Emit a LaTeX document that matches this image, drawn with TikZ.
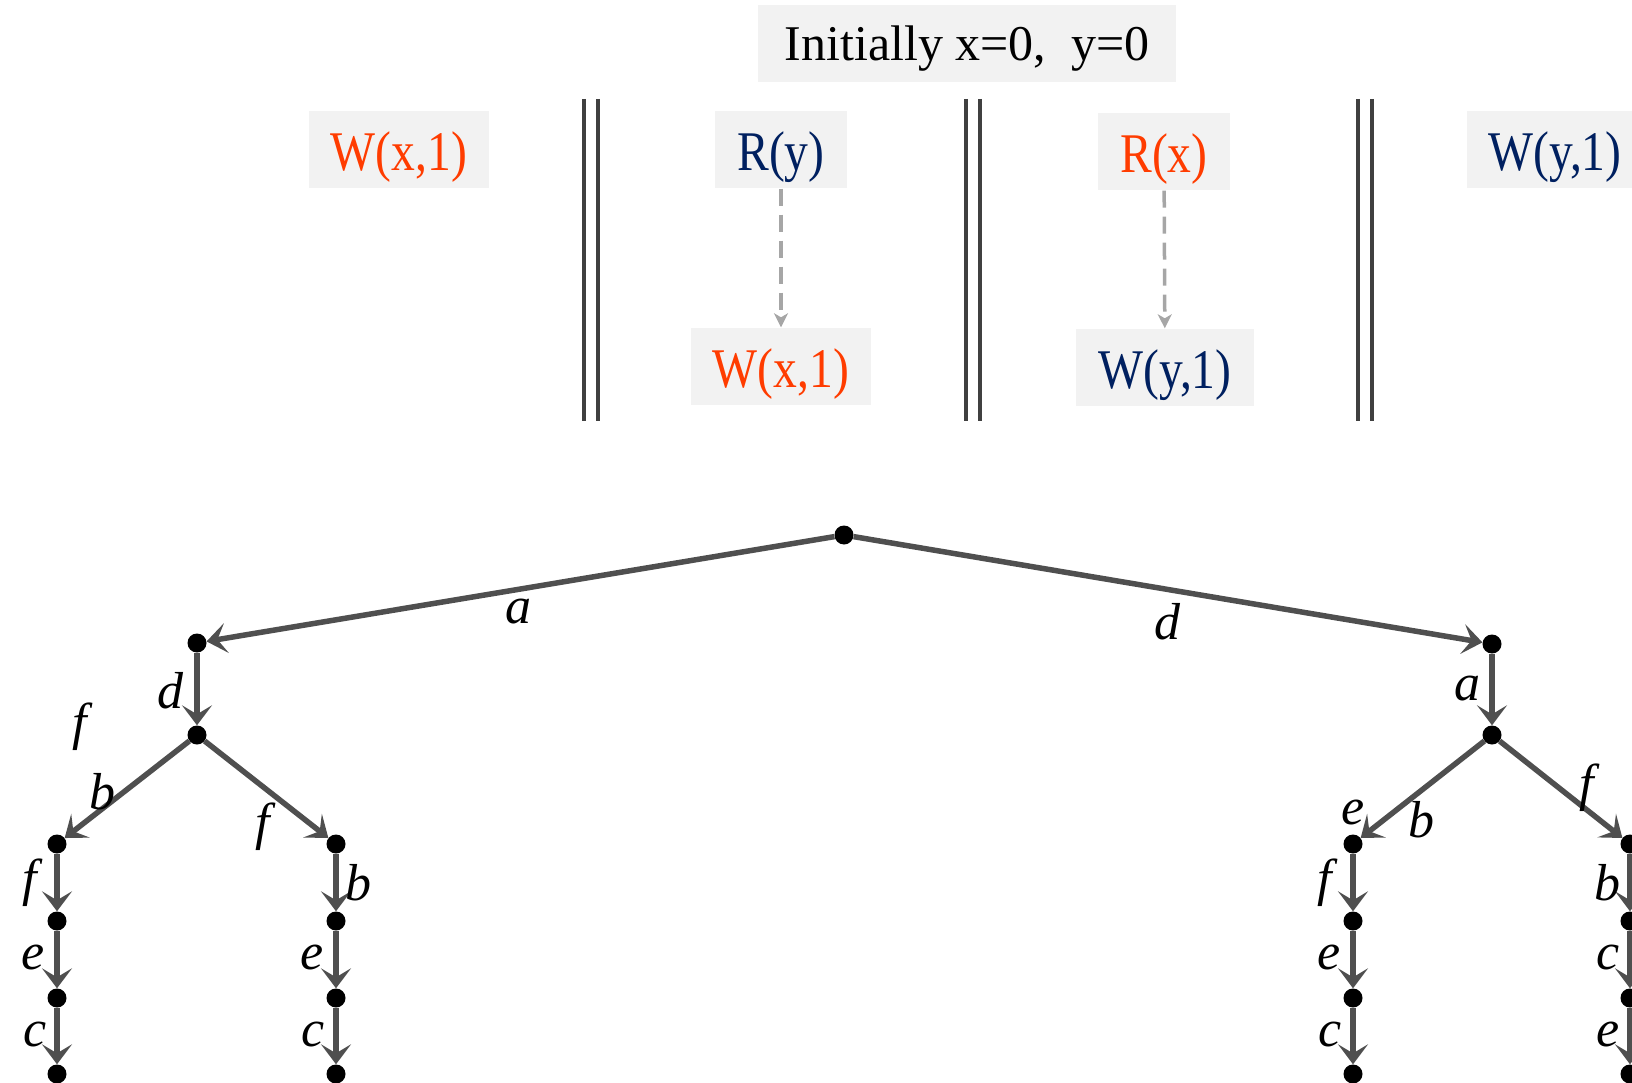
\documentclass[tikz,border=0pt]{standalone}
\usepackage{fontspec}
\setmainfont{Liberation Serif}
\newfontfamily\opfont[FakeStretch=0.85]{Liberation Serif}
\usepackage{tikz}
\usetikzlibrary{arrows.meta}

\definecolor{opred}{HTML}{FF3C00}
\definecolor{opnavy}{HTML}{002060}
\definecolor{boxgray}{HTML}{F2F2F2}
\definecolor{sepgray}{HTML}{404040}
\definecolor{dashgray}{HTML}{A6A6A6}
\definecolor{branchgray}{HTML}{4F4F4F}

\begin{document}
\begin{tikzpicture}[x=1pt, y=-1pt,
  opbox/.style={fill=boxgray, minimum height=77pt, inner xsep=22pt,
    text height=48pt, text depth=6pt,
    font=\opfont\fontsize{56}{60}\selectfont},
  sepline/.style={draw=sepgray, line width=4.5pt},
  dep/.style={draw=dashgray, line width=3.5pt, dash pattern=on 17pt off 9pt,
    -{Stealth[length=14pt,width=14pt,inset=4pt]}},
  vtx/.style={circle, fill=black, inner sep=0pt, minimum size=19pt},
  branch/.style={draw=branchgray, line width=5.5pt,
    -{Stealth[length=20pt,width=30pt,inset=9pt]}},
  lbl/.style={font=\fontsize{52}{56}\selectfont\itshape, inner sep=0pt}]
  \useasboundingbox (0,0) rectangle (1632,1083);
  \clip (0,0) rectangle (1632,1083);

  % 初期値
  \node[opbox, minimum width=418pt, text height=40pt, text depth=6pt,
    font=\fontsize{50}{56}\selectfont] (init) at (967,44) {Initially x=0,\ \ y=0};

  % スレッドの層
  \node[opbox, text=opred] (wx1) at (399,150) {W(x,1)};
  \node[opbox, text=opnavy] (ry) at (781,150) {R(y)};
  \node[opbox, text=opred] (wx2) at (781,366) {W(x,1)};
  \node[opbox, text=opred] (rx) at (1164,152) {R(x)};
  \node[opbox, text=opnavy] (wy2) at (1165,367) {W(y,1)};
  \node[opbox, text=opnavy] (wy1) at (1555,150) {W(y,1)};

  \draw[dep] (ry) -- (wx2);
  \draw[dep] (rx) -- (wy2);

  % 区切り線
  \foreach \x in {584,966,1358} {
    \draw[sepline] (\x,99) -- (\x,421);
    \draw[sepline] (\x+14,99) -- (\x+14,421);
  }

  % 木
  \node[vtx] (root) at (844,535) {};
  \node[vtx] (l1) at (197,643) {};
  \node[vtx] (l2) at (197,735) {};
  \node[vtx] (l3a) at (57,844) {};
  \node[vtx] (l3b) at (336,844) {};
  \node[vtx] (r1) at (1492,644) {};
  \node[vtx] (r2) at (1492,735) {};
  \node[vtx] (r3a) at (1353,844) {};
  \node[vtx] (r3b) at (1630,844) {};

  \draw[branch] (root) -- (l1);
  \draw[branch] (root) -- (r1);
  \draw[branch] (l1) -- (l2);
  \draw[branch] (l2) -- (l3a);
  \draw[branch] (l2) -- (l3b);
  \draw[branch] (r1) -- (r2);
  \draw[branch] (r2) -- (r3a);
  \draw[branch] (r2) -- (r3b);

  \node[lbl] (ta) at (518,612) {a};
  \node[lbl] (td) at (1167,622) {d};
  \node[lbl] (ld) at (170,691) {d};
  \node[lbl] (lf) at (80,727) {f};
  \node[lbl] (lb) at (102,792) {b};
  \node[lbl] (lf2) at (263,827) {f};
  \node[lbl] (ra) at (1467,689) {a};
  \node[lbl] (re) at (1353,812) {e};
  \node[lbl] (rb) at (1421,820) {b};
  \node[lbl] (rf) at (1587,788) {f};

  % 各葉の下の列
  \foreach \n/\x/\la/\xa/\lb/\xb/\lc/\xc in
      {l3a/57/f/30/e/33/c/35, l3b/336/b/358/e/312/c/313,
       r3a/1353/f/1325/e/1329/c/1330, r3b/1630/b/1607/c/1608/e/1608} {
    \node[vtx] (\n-1) at (\x,921) {};
    \node[vtx] (\n-2) at (\x,998) {};
    \node[vtx] (\n-3) at (\x,1074) {};
    \draw[branch] (\n) -- (\n-1);
    \draw[branch] (\n-1) -- (\n-2);
    \draw[branch] (\n-2) -- (\n-3);
    \node[lbl] (\n-t1) at (\xa,883) {\la};
    \node[lbl] (\n-t2) at (\xb,957) {\lb};
    \node[lbl] (\n-t3) at (\xc,1034) {\lc};
  }
\end{tikzpicture}
\end{document}
